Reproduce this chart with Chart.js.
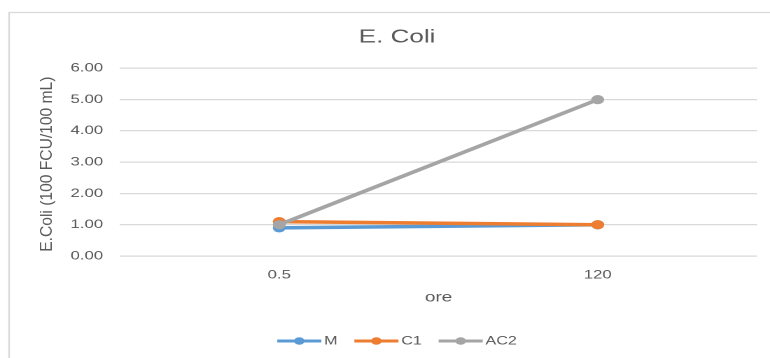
<!DOCTYPE html>
<html>
<head>
<meta charset="utf-8">
<script src="https://cdn.jsdelivr.net/npm/chart.js@4/dist/chart.umd.min.js"></script>
<style>
  html, body { margin: 0; padding: 0; background: #fff; overflow: hidden; }
  #wrap { width: 550px; height: 358px; transform: scaleX(1.4); transform-origin: 0 0; }
</style>
</head>
<body>
<div id="wrap"><canvas id="c" width="550" height="358"></canvas></div>
<script>
// Sampling times (hours) and E. coli counts per sample
const hours = ['0.5', '120'];
const seriesM = [0.9, 1.0];
const seriesC1 = [1.1, 1.0];
const seriesAC2 = [1.0, 5.0];
const seriesNames = ['M', 'C1', 'AC2'];
const seriesColors = ['#5B9BD5', '#ED7D31', '#A5A5A5'];
const yTitle = 'E.Coli (100 FCU/100 mL)';

const GRID = '#d9d9d9';
const TEXT = '#595959';
const FONT = "'Liberation Sans', Arial, sans-serif";

// Light frame around the chart
const framePlugin = {
  id: 'frame',
  beforeDraw(chart) {
    const ctx = chart.ctx;
    ctx.save();
    ctx.fillStyle = '#fff';
    ctx.fillRect(0, 0, chart.width, chart.height);
    ctx.strokeStyle = GRID;
    ctx.lineWidth = 1.2;
    ctx.beginPath();
    ctx.moveTo(6.5, chart.height);
    ctx.lineTo(6.5, 12.5);
    ctx.lineTo(chart.width, 12.5);
    ctx.stroke();
    ctx.restore();
  }
};

// Vertical axis title, drawn tall and narrow
const yTitlePlugin = {
  id: 'yTitle',
  afterDraw(chart) {
    const ctx = chart.ctx;
    const a = chart.chartArea;
    ctx.save();
    ctx.translate(33.5, (a.top + a.bottom) / 2 + 2);
    ctx.rotate(-Math.PI / 2);
    ctx.scale(1.3, 1);
    ctx.font = '12px ' + FONT;
    ctx.fillStyle = TEXT;
    ctx.textAlign = 'center';
    ctx.textBaseline = 'middle';
    ctx.fillText(yTitle, 0, 0);
    ctx.restore();
  }
};

// Legend with line-and-marker swatches, centred under the chart
const legendPlugin = {
  id: 'lineLegend',
  afterDraw(chart) {
    const ctx = chart.ctx;
    const sets = chart.data.datasets;
    const lineLen = 31.5, gapText = 2, gapItem = 12, y = 341;
    ctx.save();
    ctx.font = '11.5px ' + FONT;
    ctx.textBaseline = 'middle';
    const widths = sets.map(d => lineLen + gapText + ctx.measureText(d.label).width);
    const total = widths.reduce((s, w) => s + w, 0) + gapItem * (sets.length - 1);
    let x = 283.6 - total / 2;
    sets.forEach((d, i) => {
      ctx.strokeStyle = d.borderColor;
      ctx.lineWidth = 3;
      ctx.beginPath();
      ctx.moveTo(x, y);
      ctx.lineTo(x + lineLen, y);
      ctx.stroke();
      ctx.fillStyle = d.borderColor;
      ctx.beginPath();
      ctx.arc(x + lineLen / 2, y, 3.8, 0, Math.PI * 2);
      ctx.fill();
      ctx.fillStyle = TEXT;
      ctx.fillText(d.label, x + lineLen + gapText, y + 0.5);
      x += widths[i] + gapItem;
    });
    ctx.restore();
  }
};

const values = [seriesM, seriesC1, seriesAC2];
const datasets = values.map((v, i) => ({
  label: seriesNames[i],
  data: v,
  borderColor: seriesColors[i],
  backgroundColor: seriesColors[i],
  borderWidth: 3.5,
  pointRadius: 4.6,
  pointHoverRadius: 4.6,
  pointBorderWidth: 0,
  tension: 0,
  order: values.length - i
}));

new Chart(document.getElementById('c'), {
  type: 'line',
  data: { labels: hours, datasets },
  options: {
    responsive: false,
    animation: false,
    devicePixelRatio: 2,
    layout: { padding: { left: 26.5, right: 9.3, top: 26, bottom: 52 } },
    plugins: {
      legend: { display: false },
      tooltip: { enabled: false },
      title: {
        display: true,
        text: 'E. Coli',
        color: TEXT,
        font: { family: FONT, size: 18.6, weight: 'normal' },
        padding: { top: 0, bottom: 20 }
      }
    },
    scales: {
      x: {
        offset: true,
        grid: { display: false },
        border: { display: false },
        ticks: { color: TEXT, font: { family: FONT, size: 12 }, padding: 4 },
        title: {
          display: true,
          text: 'ore',
          color: TEXT,
          font: { family: FONT, size: 13.5 },
          padding: 0
        },
        afterFit(s) { s.height = 50; }
      },
      y: {
        min: 0,
        max: 6,
        grid: { color: GRID, lineWidth: 1.3, drawTicks: false },
        border: { display: false },
        ticks: {
          stepSize: 1,
          color: TEXT,
          font: { family: FONT, size: 12 },
          padding: 12,
          callback: v => v.toFixed(2)
        },
        afterFit(s) { s.width = 59.2; }
      }
    }
  },
  plugins: [framePlugin, yTitlePlugin, legendPlugin]
});
</script>
</body>
</html>
